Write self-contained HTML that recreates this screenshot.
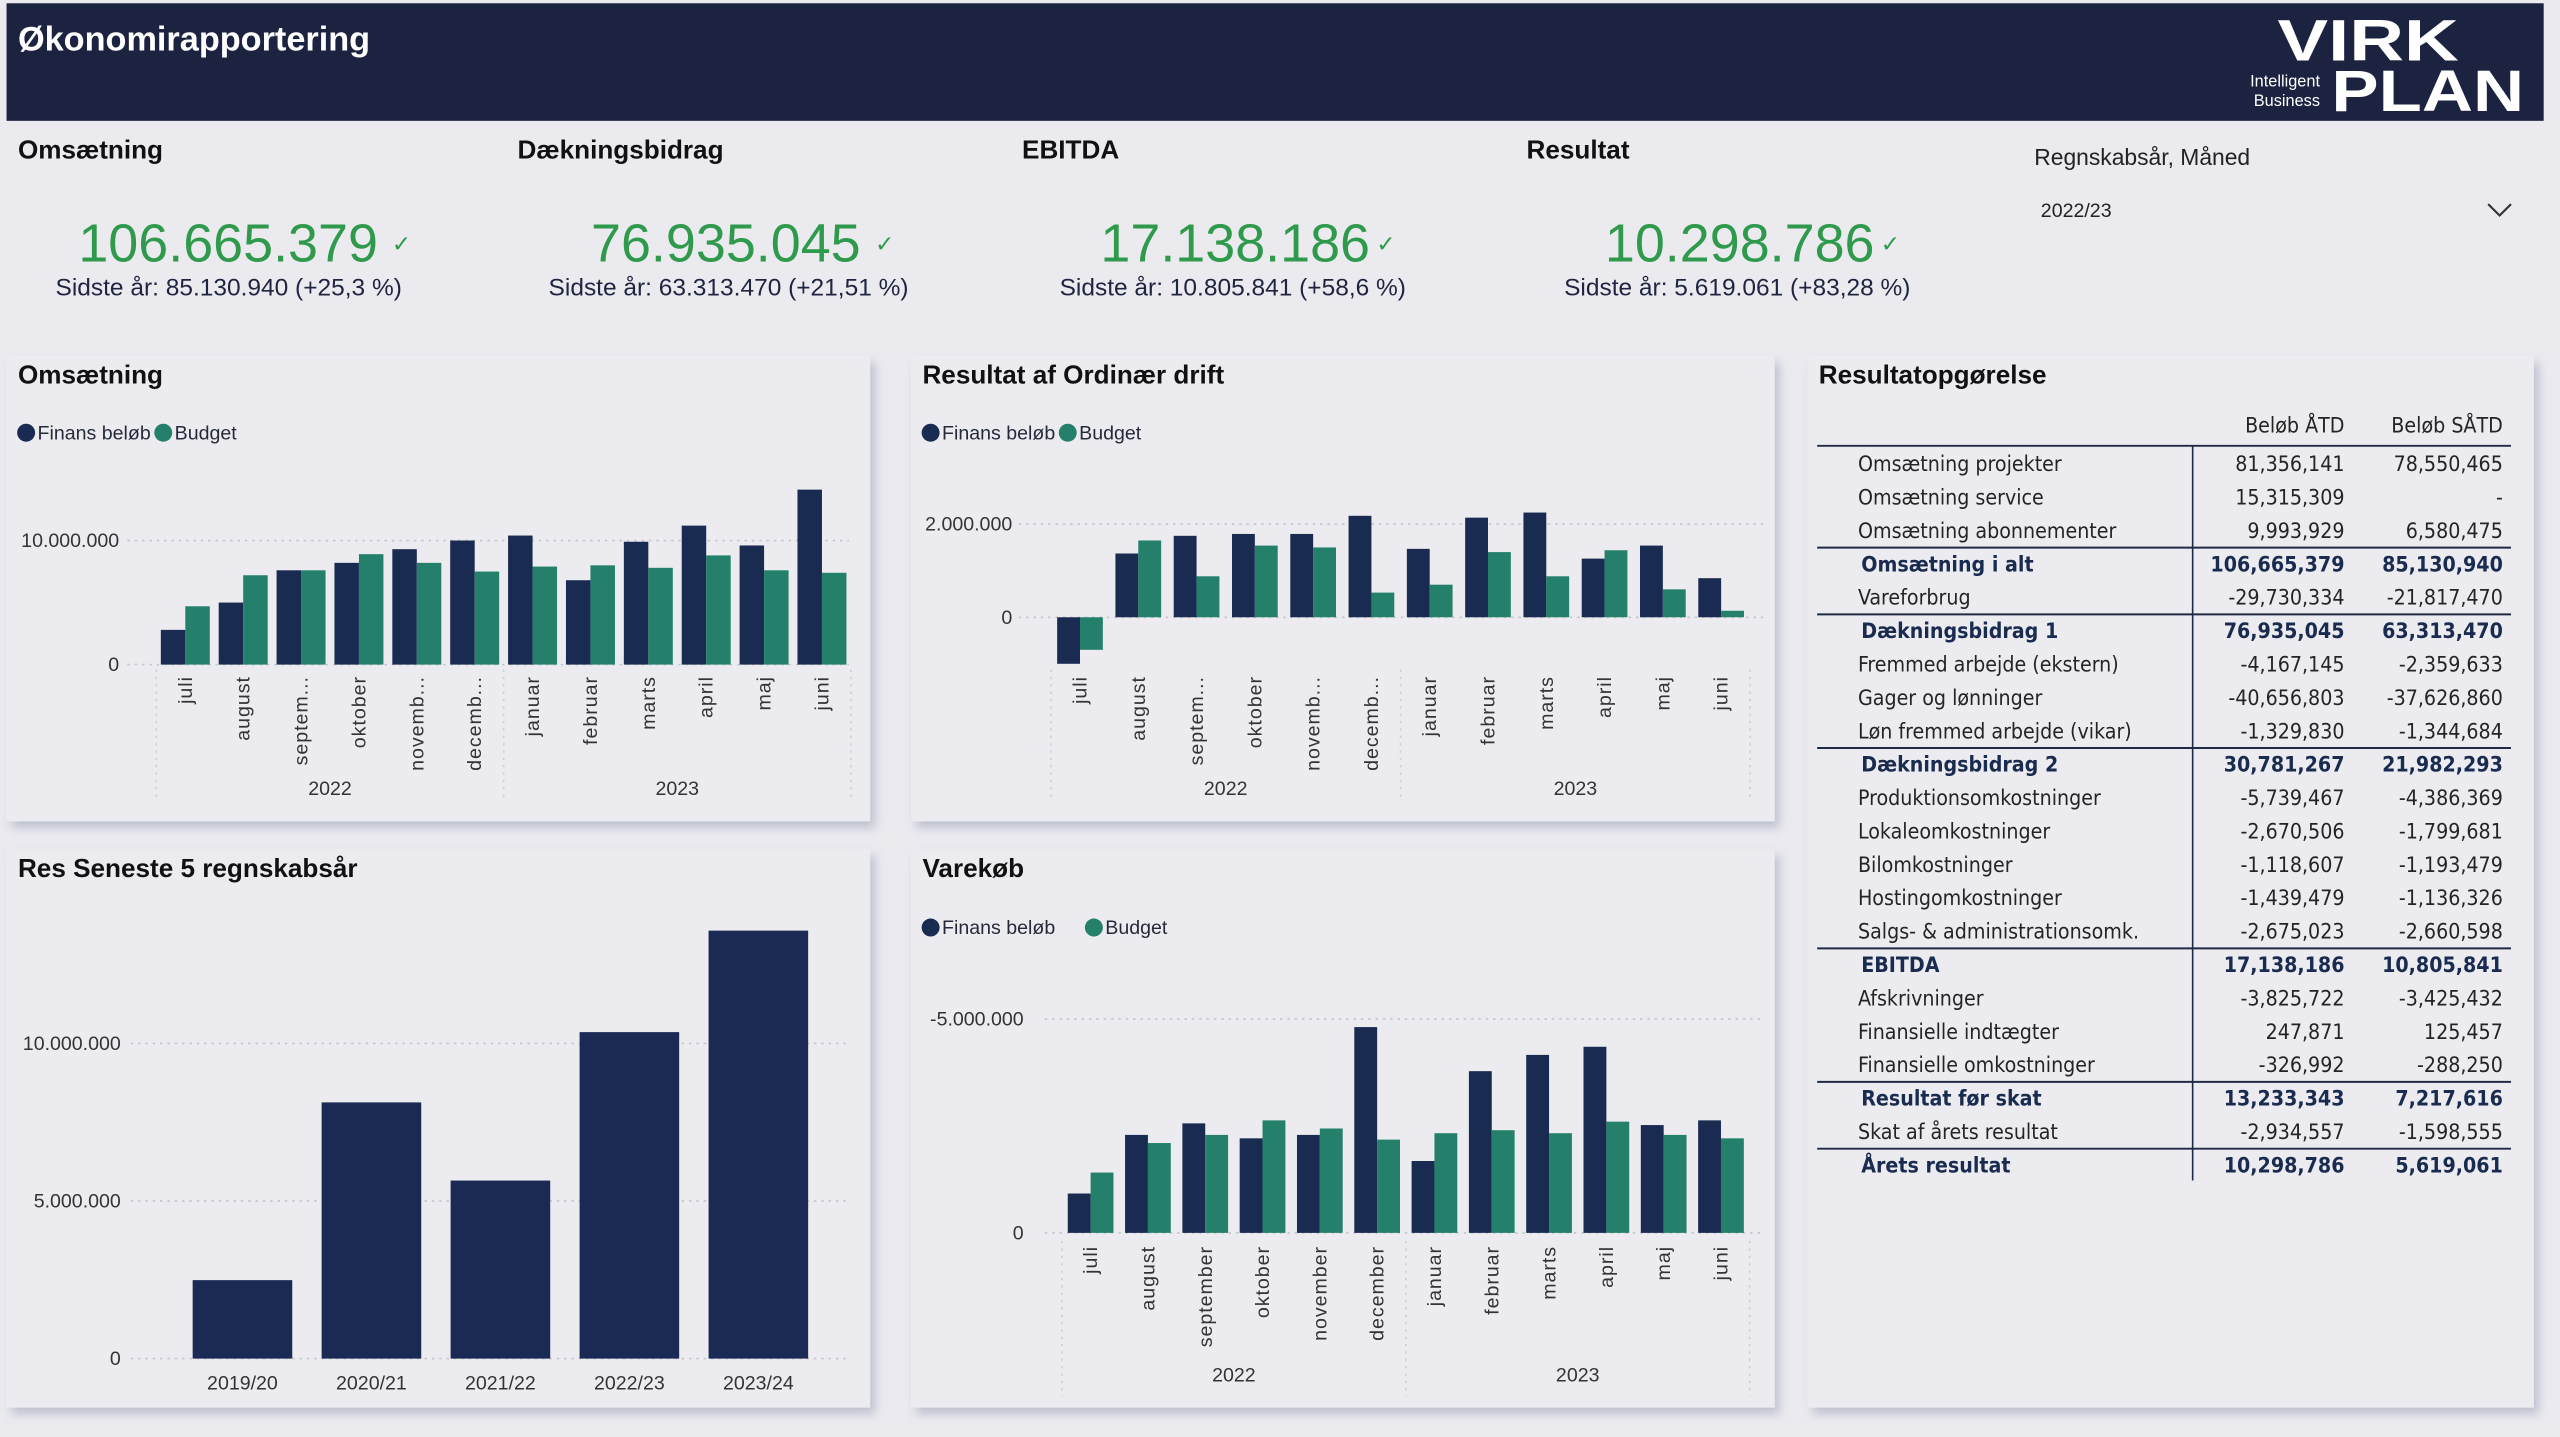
<!DOCTYPE html>
<html><head><meta charset="utf-8">
<style>
html,body{margin:0;padding:0;background:#eaeaef;width:2560px;height:1437px;overflow:hidden}
svg{display:block;font-family:"Liberation Sans","DejaVu Sans",sans-serif}
.t{font-weight:bold;font-size:16px;fill:#111}
.lg{font-size:12px;fill:#252a3a}
.ax{font-size:12px;fill:#333}
.tb{font-size:13px;fill:#252423;font-family:"DejaVu Sans Condensed","Liberation Sans",sans-serif}
.tbb{font-size:13px;fill:#1a2b50;font-weight:bold;font-family:"DejaVu Sans Condensed","Liberation Sans",sans-serif}
</style></head><body>
<svg id="root" width="2560" height="1437" viewBox="0 0 1568 880" preserveAspectRatio="none">
<defs><filter id="sh" x="-5%" y="-5%" width="112%" height="115%"><feDropShadow dx="3" dy="4" stdDeviation="3" flood-color="#8a8fa8" flood-opacity="0.45"/></filter></defs>
<rect x="0" y="0" width="1568" height="880" fill="#eaeaef"/>
<g>
<rect x="4" y="2" width="1554" height="72" fill="#1b2340"/>
<text x="11" y="31" fill="#fff" font-size="21" font-weight="bold">Økonomirapportering</text>
<g>
<text x="1395" y="37" fill="#fff" font-size="36" font-weight="bold" font-family="Liberation Sans" textLength="111" lengthAdjust="spacingAndGlyphs">VIRK</text>
<text x="1428" y="68" fill="#fff" font-size="36" font-weight="bold" textLength="118" lengthAdjust="spacingAndGlyphs">PLAN</text>
<text x="1421" y="53" fill="#fff" font-size="10" text-anchor="end">Intelligent</text>
<text x="1421" y="65" fill="#fff" font-size="10" text-anchor="end">Business</text>
</g>
</g>
<g>
<g><text x="11" y="97" class="t">Omsætning</text><text x="48" y="160" fill="#2f9a4c" font-size="33">106.665.379</text><text x="240" y="154" fill="#2f9a4c" font-size="14">✓</text><text x="34" y="181" fill="#1f2540" font-size="15">Sidste år: 85.130.940 (+25,3 %)</text></g>
<g><text x="317" y="97" class="t">Dækningsbidrag</text><text x="362" y="160" fill="#2f9a4c" font-size="33">76.935.045</text><text x="536" y="154" fill="#2f9a4c" font-size="14">✓</text><text x="336" y="181" fill="#1f2540" font-size="15">Sidste år: 63.313.470 (+21,51 %)</text></g>
<g><text x="626" y="97" class="t">EBITDA</text><text x="674" y="160" fill="#2f9a4c" font-size="33">17.138.186</text><text x="843" y="154" fill="#2f9a4c" font-size="14">✓</text><text x="649" y="181" fill="#1f2540" font-size="15">Sidste år: 10.805.841 (+58,6 %)</text></g>
<g><text x="935" y="97" class="t">Resultat</text><text x="983" y="160" fill="#2f9a4c" font-size="33">10.298.786</text><text x="1152" y="154" fill="#2f9a4c" font-size="14">✓</text><text x="958" y="181" fill="#1f2540" font-size="15">Sidste år: 5.619.061 (+83,28 %)</text></g>
</g>
<g>
<text x="1246" y="101" fill="#222" font-size="14">Regnskabsår, Måned</text>
<text x="1250" y="133" fill="#222" font-size="12">2022/23</text>
<path d="M1524 125 L1531 132 L1538 125" fill="none" stroke="#333" stroke-width="1.3"/>
</g>
<g id="panels"></g>
</svg>
<script>
// ---- chart data ----
const months=["juli","august","september","oktober","november","december","januar","februar","marts","april","maj","juni"];
const monthsShort=["juli","august","septem...","oktober","novemb...","decemb...","januar","februar","marts","april","maj","juni"];
const years=["2022","2023"];
const omsFinans=[2.8,5.0,7.6,8.2,9.3,10.0,10.4,6.8,9.9,11.2,9.6,14.1];
const omsBudget=[4.7,7.2,7.6,8.9,8.2,7.5,7.9,8.0,7.8,8.8,7.6,7.4];
const omsTicks=[0,10];
const resFinans=[-1.0,1.37,1.75,1.79,1.79,2.18,1.47,2.14,2.25,1.26,1.54,0.84];
const resBudget=[-0.7,1.65,0.88,1.54,1.5,0.53,0.70,1.40,0.88,1.44,0.6,0.14];
const resTicks=[0,2];
const vkFinans=[-0.92,-2.29,-2.56,-2.21,-2.29,-4.81,-1.68,-3.78,-4.16,-4.35,-2.52,-2.63];
const vkBudget=[-1.41,-2.1,-2.29,-2.63,-2.44,-2.18,-2.33,-2.4,-2.33,-2.6,-2.29,-2.21];
const vkTicks=[0,-5];
const fyCats=["2019/20","2020/21","2021/22","2022/23","2023/24"];
const fyValues=[2.49,8.13,5.65,10.36,13.58];
const fyTicks=[0,5,10];
const tblRows=["Omsætning projekter","Omsætning service","Omsætning abonnementer","Omsætning i alt","Vareforbrug","Dækningsbidrag 1","Fremmed arbejde (ekstern)","Gager og lønninger","Løn fremmed arbejde (vikar)","Dækningsbidrag 2","Produktionsomkostninger","Lokaleomkostninger","Bilomkostninger","Hostingomkostninger","Salgs- & administrationsomk.","EBITDA","Afskrivninger","Finansielle indtægter","Finansielle omkostninger","Resultat før skat","Skat af årets resultat","Årets resultat"];
const tblATD=["81,356,141","15,315,309","9,993,929","106,665,379","-29,730,334","76,935,045","-4,167,145","-40,656,803","-1,329,830","30,781,267","-5,739,467","-2,670,506","-1,118,607","-1,439,479","-2,675,023","17,138,186","-3,825,722","247,871","-326,992","13,233,343","-2,934,557","10,298,786"];
const tblSATD=["78,550,465","-","6,580,475","85,130,940","-21,817,470","63,313,470","-2,359,633","-37,626,860","-1,344,684","21,982,293","-4,386,369","-1,799,681","-1,193,479","-1,136,326","-2,660,598","10,805,841","-3,425,432","125,457","-288,250","7,217,616","-1,598,555","5,619,061"];
const tblBold=[3,5,9,15,19,21];

const NS="http://www.w3.org/2000/svg";
const root=document.getElementById('panels');
const NAVY="#1a2b52",GREEN="#24806a";
function el(tag,attrs,parent,txt){const e=document.createElementNS(NS,tag);for(const k in attrs)e.setAttribute(k,attrs[k]);if(txt!==undefined)e.textContent=txt;(parent||root).appendChild(e);return e;}
function fmt(v){return v===0?"0":(v<0?"-":"")+Math.abs(v*1000000).toString().replace(/\B(?=(\d{3})+(?!\d))/g,".");}

function panel(x,y,w,h,title,name){
  const g=el('g',{});
  
  
  el('rect',{x:x,y:y,width:w,height:h,fill:"#ececf0",filter:"url(#sh)"},g);
  const t=el('text',{x:x+7,y:y+17,class:"t"},g,title);
  
  
  return g;
}
function legend(g,x,y,fs){
  const l=el('g',{},g);
  
  
  el('circle',{cx:x+5,cy:y-4,r:5.5,fill:NAVY},l);
  const t1=el('text',{x:x+12,y:y,class:"lg","font-size":fs},l,"Finans beløb");
  const w1=fs==12?78:94;
  el('circle',{cx:x+w1+11,cy:y-4,r:5.5,fill:GREEN},l);
  el('text',{x:x+w1+18,y:y,class:"lg","font-size":fs},l,"Budget");
}
function groupedChart(g,cfg){
  const {x0,spacing,zeroY,pxPer,fin,bud,ticks,labels,left,right,labelX,bottom,yearY,inv,bw}=cfg;
  const ys=v=>zeroY-(inv?-v:v)*pxPer;
  ticks.forEach(t=>{
    const yy=ys(t);
    el('line',{x1:left,x2:right,y1:yy,y2:yy,stroke:"#c4c4cc","stroke-dasharray":"1.5 3"},g);
    const tx=el('text',{x:labelX,y:yy+4,class:"ax","text-anchor":"end"},g,fmt(t));
    
    
  });
  fin.forEach((v,i)=>{
    const cx=x0+i*spacing;
    [[v,NAVY,-bw,'bar-finans-'],[bud[i],GREEN,0,'bar-budget-']].forEach(([val,c,off,nm])=>{
      const a=ys(val),top=Math.min(a,zeroY),hgt=Math.abs(a-zeroY);
      const r=el('rect',{x:cx+off,y:top,width:bw,height:hgt,fill:c},g);
      
      
    });
    const lx=cx+4,ly=cfg.lblY;
    const t=el('text',{x:lx,y:ly,class:"ax","text-anchor":"end","font-size":12,"letter-spacing":"0.6",transform:`rotate(-90 ${lx} ${ly})`},g,labels[i]);
    
    
  });
  const gx=[x0-spacing/2,x0+5.5*spacing,x0+11.5*spacing];
  gx.forEach(xx=>el('line',{x1:xx,x2:xx,y1:cfg.sepTop,y2:bottom,stroke:"#cfcfd6","stroke-dasharray":"1.5 3"},g));
  years.forEach((yr,k)=>{
    const t=el('text',{x:(gx[k]+gx[k+1])/2,y:yearY,class:"ax","text-anchor":"middle"},g,yr);
    
    
  });
}
// Omsætning
let g1=panel(4,218,529,285,"Omsætning","omsaetning-chart");
legend(g1,11,269,12);
groupedChart(g1,{x0:113.5,spacing:35.45,zeroY:407,pxPer:7.6,fin:omsFinans,bud:omsBudget,ticks:omsTicks,labels:monthsShort,left:78,right:520,labelX:73,bottom:490,yearY:487,lblY:414,sepTop:410,bw:15});
// Resultat
let g2=panel(558,218,529,285,"Resultat af Ordinær drift","resultat-chart");
legend(g2,565,269,12);
groupedChart(g2,{x0:661.5,spacing:35.7,zeroY:378,pxPer:28.5,fin:resFinans,bud:resBudget,ticks:resTicks,labels:monthsShort,left:624,right:1080,labelX:620,bottom:490,yearY:487,lblY:414,sepTop:410,bw:14});
// Varekøb
let g3=panel(558,520,529,342,"Varekøb","varekob-chart");
legend(g3,565,572,14);
groupedChart(g3,{x0:668,spacing:35.1,zeroY:755,pxPer:26.2,fin:vkFinans,bud:vkBudget,ticks:vkTicks,labels:months,left:640,right:1080,labelX:627,bottom:855,yearY:846,lblY:763,sepTop:760,bw:14,inv:true});
// Res seneste 5
let g4=panel(4,520,529,342,"Res Seneste 5 regnskabsår","fy-result-chart");
(function(){
  const zeroY=832,pxPer=19.3;
  fyTicks.forEach(t=>{
    const yy=zeroY-t*pxPer;
    el('line',{x1:80,x2:520,y1:yy,y2:yy,stroke:"#c4c4cc","stroke-dasharray":"1.5 3"},g4);
    const tx=el('text',{x:74,y:yy+4,class:"ax","text-anchor":"end"},g4,fmt(t));
    
    
  });
  fyCats.forEach((c,i)=>{
    const cx=148.5+i*79;
    const h=fyValues[i]*pxPer;
    const r=el('rect',{x:cx-30.5,y:zeroY-h,width:61,height:h,fill:"#1b2a55"},g4);
    
    
    const t=el('text',{x:cx,y:851,class:"ax","text-anchor":"middle"},g4,c);
    
    
  });
})();
// Table
let g5=panel(1107,218,445,644,"Resultatopgørelse","income-statement-table");
(function(){
  el('text',{x:1436,y:265,class:"tb","text-anchor":"end"},g5,"Beløb ÅTD");
  el('text',{x:1533,y:265,class:"tb","text-anchor":"end"},g5,"Beløb SÅTD");
  const top=273,rh=20.45;
  el('line',{x1:1113,x2:1538,y1:top,y2:top,stroke:"#1f2a44","stroke-width":1.2},g5);
  el('line',{x1:1343,x2:1343,y1:top,y2:top+rh*tblRows.length,stroke:"#1f2a44","stroke-width":1},g5);
  tblRows.forEach((r,i)=>{
    const y=top+rh*i+15.5;
    const b=tblBold.includes(i);
    if(b) el('line',{x1:1113,x2:1538,y1:top+rh*i+1,y2:top+rh*i+1,stroke:"#1f2a44","stroke-width":1.2},g5);
    const row=el('g',{},g5);
    
    
    el('text',{x:b?1140:1138,y:y,class:b?"tbb":"tb"},row,r);
    el('text',{x:1436,y:y,class:b?"tbb":"tb","text-anchor":"end"},row,tblATD[i]);
    el('text',{x:1533,y:y,class:b?"tbb":"tb","text-anchor":"end"},row,tblSATD[i]);
  });
})();
</script>
</body></html>
